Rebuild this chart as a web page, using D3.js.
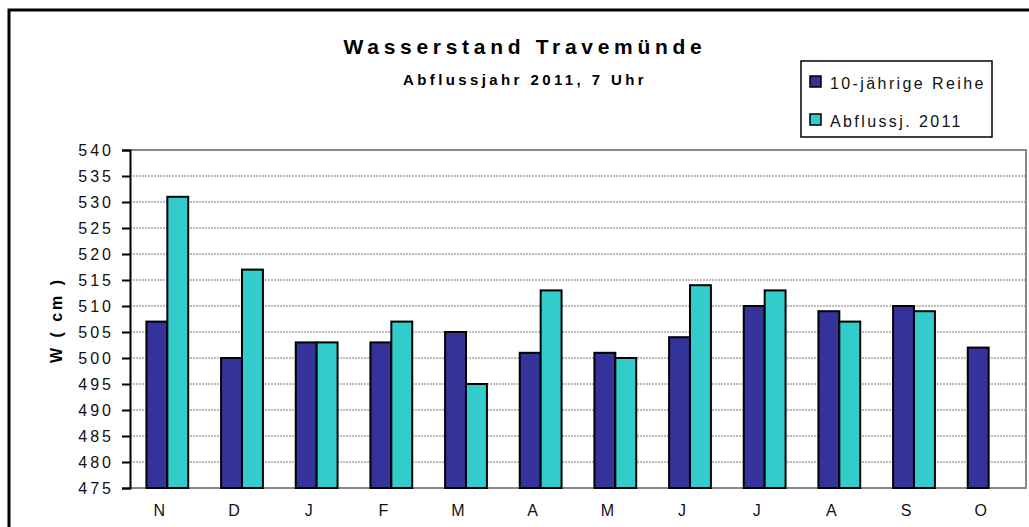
<!doctype html>
<html>
<head>
<meta charset="utf-8">
<script src="https://cdnjs.cloudflare.com/ajax/libs/d3/7.8.5/d3.min.js"></script>
<style>
  body { margin: 0; background: #fff; }
  svg { font-family: "Liberation Sans", Arial, sans-serif; }
</style>
</head>
<body>
<svg id="chart" width="1029" height="527"></svg>
<script>
// monthly water levels, Abflussjahr Nov 2010 - Okt 2011
var months = ["N", "D", "J", "F", "M", "A", "M", "J", "J", "A", "S", "O"];
var reihe10 = [507, 500, 503, 503, 505, 501, 501, 504, 510, 509, 510, 502];
var jahr2011 = [531, 517, 503, 507, 495, 513, 500, 514, 513, 507, 509, null];
var seriesNames = ["10-jährige Reihe", "Abflussj. 2011"];
var seriesColors = ["#333399", "#33cccc"];
var yTicks = d3.range(475, 541, 5);

var svg = d3.select("#chart");

// outer frame
svg.append("rect")
    .attr("x", 9).attr("y", 10)
    .attr("width", 1040).attr("height", 540)
    .attr("fill", "none").attr("stroke", "#000").attr("stroke-width", 3);

var x0 = 130, x1 = 1026, y0 = 150, y1 = 488;

var xScale = d3.scaleBand().domain(d3.range(months.length)).range([x0, x1]).paddingInner(0.44).paddingOuter(0.22);
var xSub = d3.scaleBand().domain([0, 1]).range([0, xScale.bandwidth()]);
var yScale = d3.scaleLinear().domain([475, 540]).range([y1, y0]);

// gridlines
svg.append("g")
    .selectAll("line")
    .data(yTicks.slice(1, -1))
    .enter().append("line")
    .attr("x1", x0).attr("x2", x1)
    .attr("y1", d => yScale(d)).attr("y2", d => yScale(d))
    .attr("stroke", "#777").attr("stroke-width", 1)
    .attr("stroke-dasharray", "2,1");

// plot border top/right/bottom (gray)
svg.append("path")
    .attr("d", "M" + x0 + "," + y0 + "H" + x1 + "V" + y1 + "H" + x0)
    .attr("fill", "none").attr("stroke", "#888").attr("stroke-width", 2);

// bars
var groups = svg.append("g").selectAll("g")
    .data(months.map((m, i) => i))
    .enter().append("g")
    .attr("transform", i => "translate(" + xScale(i) + ",0)");

groups.selectAll("rect")
    .data(i => [reihe10[i], jahr2011[i]].map((v, s) => ({ v: v, s: s })).filter(d => d.v != null))
    .enter().append("rect")
    .attr("x", d => xSub(d.s))
    .attr("width", xSub.bandwidth())
    .attr("y", d => yScale(d.v))
    .attr("height", d => yScale(475) - yScale(d.v))
    .attr("fill", d => seriesColors[d.s])
    .attr("stroke", "#000").attr("stroke-width", 2);

// y axis
var yAxis = svg.append("g")
    .attr("transform", "translate(" + x0 + ",0)")
    .call(d3.axisLeft(yScale).tickValues(yTicks).tickSize(8).tickPadding(8));
yAxis.select(".domain").attr("stroke", "#000").attr("stroke-width", 2);
yAxis.selectAll(".tick line").attr("stroke", "#000").attr("stroke-width", 2);
yAxis.selectAll("text")
    .attr("font-size", 16).attr("fill", "#111")
    .attr("font-family", "Liberation Sans, Arial, sans-serif")
    .attr("dy", "0.36em")
    .style("letter-spacing", "3px");

// x labels (sit a little left of the bar groups, as in the original)
svg.append("g").selectAll("text")
    .data(months)
    .enter().append("text")
    .attr("x", (d, i) => xScale(i) + xScale.bandwidth() / 2 - 8)
    .attr("y", 516)
    .attr("text-anchor", "middle")
    .attr("font-size", 16).attr("fill", "#111")
    .text(d => d);

// y title
svg.append("text")
    .attr("transform", "translate(62," + ((y0 + y1) / 2 + 1) + ") rotate(-90)")
    .attr("text-anchor", "middle")
    .attr("font-size", 16).attr("font-weight", "bold")
    .style("letter-spacing", "3px")
    .text("W ( cm )");

// titles
svg.append("text")
    .attr("x", 525).attr("y", 54)
    .attr("text-anchor", "middle")
    .attr("font-size", 21).attr("font-weight", "bold")
    .style("letter-spacing", "4.7px")
    .text("Wasserstand Travemünde");

svg.append("text")
    .attr("x", 525).attr("y", 85)
    .attr("text-anchor", "middle")
    .attr("font-size", 15).attr("font-weight", "bold")
    .style("letter-spacing", "3.4px")
    .text("Abflussjahr 2011, 7 Uhr");

// legend
var legend = svg.append("g");
legend.append("rect")
    .attr("x", 801).attr("y", 61).attr("width", 191).attr("height", 76)
    .attr("fill", "#fff").attr("stroke", "#000").attr("stroke-width", 1.5);

var items = legend.selectAll("g.item")
    .data(seriesNames)
    .enter().append("g")
    .attr("transform", (d, i) => "translate(810," + (82 + i * 38) + ")");
items.append("rect")
    .attr("x", 0).attr("y", -6).attr("width", 11).attr("height", 11)
    .attr("fill", (d, i) => seriesColors[i])
    .attr("stroke", "#000").attr("stroke-width", 1.5);
items.append("text")
    .attr("x", 20).attr("y", 7)
    .attr("font-size", 16).attr("fill", "#111")
    .style("letter-spacing", "2.4px")
    .text(d => d);
</script>
</body>
</html>
